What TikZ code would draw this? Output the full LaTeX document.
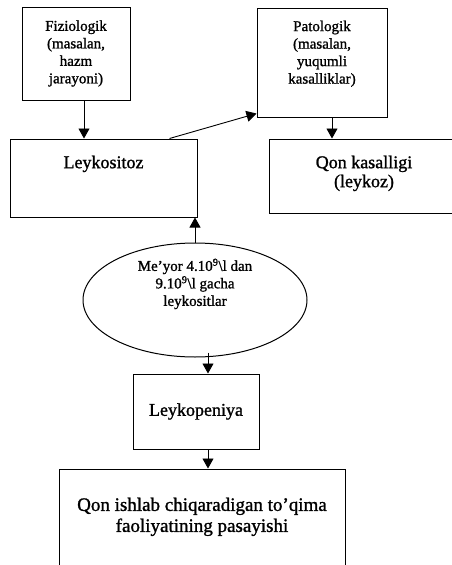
\documentclass[tikz,border=0pt]{standalone}
\usepackage{fontspec}
\setmainfont{Liberation Serif}[FakeBold=1.2]
\usetikzlibrary{arrows.meta,positioning,shapes.geometric}
\tikzset{
  blkarr/.style={-{Triangle[length=10pt,width=11pt]}, line width=0.9pt},
  blk/.style={draw, line width=1pt, inner sep=0pt, align=center, font=\fontsize{15}{17.5}\selectfont},
  toptxt/.style={anchor=north, inner sep=0pt, align=center, font=\fontsize{15}{17.5}\selectfont},
  midtxt/.style={anchor=north, inner sep=0pt, align=center, font=\fontsize{18}{19}\selectfont},
  bigtxt/.style={anchor=north, inner sep=0pt, align=center, font=\fontsize{19}{21}\selectfont},
}

\begin{document}
\begin{tikzpicture}[x=1pt, y=-1pt]
  \useasboundingbox (0,0) rectangle (452,565);
  \node[blk, minimum width=108pt, minimum height=93pt] (fiz) at (76,53.5) {Fiziologik\\(masalan,\\hazm\\jarayoni)};
  \node[blk, minimum width=130pt, minimum height=109pt,
        label={[toptxt, yshift=-13pt]north:Patologik\\(masalan,\\yuqumli\\kasalliklar)}] (pat) at (322,62.5) {};
  \node[blk, minimum width=187pt, minimum height=78pt,
        label={[midtxt, yshift=-17pt]north:Leykositoz}] (leyk) at (103.5,178) {};
  \node[blk, minimum width=190pt, minimum height=74pt,
        label={[midtxt, yshift=-17pt]north:Qon kasalligi\\(leykoz)}] (qon) at (364,176) {};
  \node[blk, ellipse, minimum width=224pt, minimum height=114pt,
        label={[toptxt, yshift=-16pt]north:Me'yor 4.10\textsuperscript{9}\textbackslash l dan\\9.10\textsuperscript{9}\textbackslash l gacha\\leykositlar}] (ell) at (195,300) {};
  \node[blk, font=\fontsize{18}{19}\selectfont, minimum width=126pt, minimum height=75pt] (leykop) at (196,411.5) {Leykopeniya};
  \node[blk, minimum width=286pt, minimum height=130pt,
        label={[bigtxt, yshift=-29pt]north:Qon ishlab chiqaradigan to'qima\\faoliyatining pasayishi}] (big) at (202,534) {};
  \draw[blkarr] ([xshift=8pt]fiz.south) -- ([xshift=8pt]fiz.south |- leyk.north);
  \draw[blkarr] ([xshift=66pt]leyk.north) -- ([yshift=4pt]pat.south west);
  \draw[blkarr] ([xshift=10pt]pat.south) -- ([xshift=10pt]pat.south |- qon.north);
  \draw[blkarr] (ell.north) -- (ell.north |- leyk.south);
  \draw[blkarr] ([xshift=13pt, yshift=5pt]ell.south) -- ([xshift=13pt]ell.south |- leykop.north);
  \draw[blkarr] ([xshift=12pt]leykop.south) -- ([xshift=12pt]leykop.south |- big.north);
\end{tikzpicture}
\end{document}
